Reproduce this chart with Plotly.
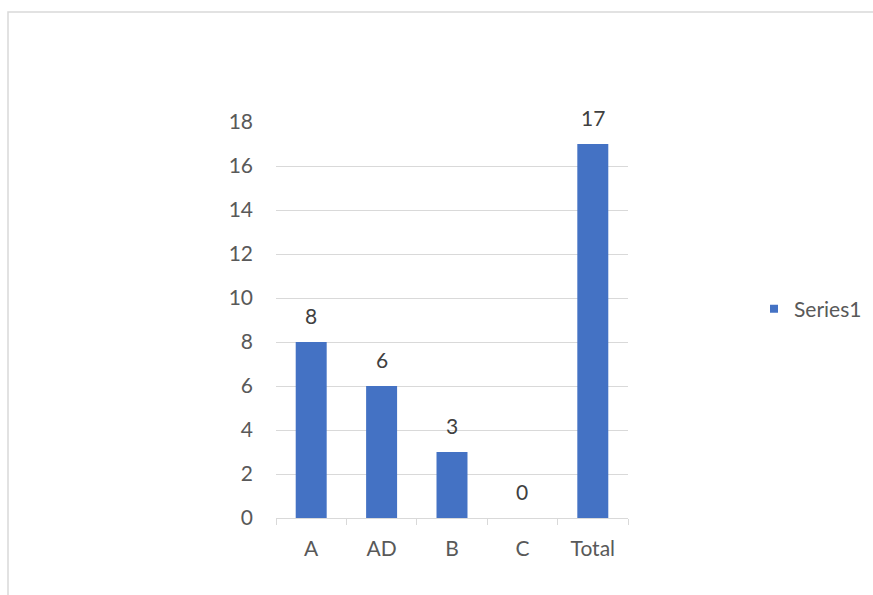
import plotly.graph_objects as go

# Counts per category
categories = ["A", "AD", "B", "C", "Total"]
values = [8, 6, 3, 0, 17]
series_name = "Series1"

BAR_COLOR = "#4472C4"
W, H = 873, 595
L, R, T, B = 276, 245, 122, 77
pw, ph = W - L - R, H - T - B

def px_x(x):
    return (x - L) / pw

def px_y(y):
    return (H - B - y) / ph

fig = go.Figure()
fig.add_trace(go.Bar(
    x=categories,
    y=values,
    name=series_name,
    marker=dict(color=BAR_COLOR, line=dict(width=0)),
    showlegend=False,
))
# legend entry with a small square swatch
fig.add_trace(go.Scatter(
    x=[None], y=[None], mode="markers", name=series_name,
    marker=dict(symbol="square", size=8, color=BAR_COLOR),
    showlegend=True,
))

# value labels above each bar
for c, v in zip(categories, values):
    fig.add_annotation(
        x=c, y=v, text=str(v), showarrow=False,
        yanchor="middle", yshift=27,
        font=dict(family="Lato", size=21, color="#404040"),
    )

fig.update_layout(
    width=W, height=H,
    margin=dict(l=L, r=R, t=T, b=B, autoexpand=False),
    paper_bgcolor="white",
    plot_bgcolor="white",
    bargap=0.56,
    font=dict(family="Lato", size=21, color="#595959"),
    legend=dict(
        x=px_x(754), y=px_y(309), xanchor="left", yanchor="middle",
        font=dict(family="Lato", size=21, color="#595959"),
        itemwidth=30,
    ),
    xaxis=dict(
        showline=True, linecolor="#d9d9d9", linewidth=1,
        ticks="outside", tickson="boundaries", ticklen=6, tickcolor="#d9d9d9",
        showgrid=False, ticklabelstandoff=12,
    ),
    yaxis=dict(
        range=[0, 18], dtick=2, showgrid=True, gridcolor="#d9d9d9", gridwidth=1,
        zeroline=False, showline=False, ticks="", ticklabelstandoff=22,
    ),
    shapes=[dict(
        type="rect", xref="paper", yref="paper",
        x0=px_x(8), x1=px_x(W + 20), y0=px_y(H + 20), y1=px_y(12),
        line=dict(color="#d9d9d9", width=1.5), layer="below",
    )],
)

fig.write_html("out.html")
